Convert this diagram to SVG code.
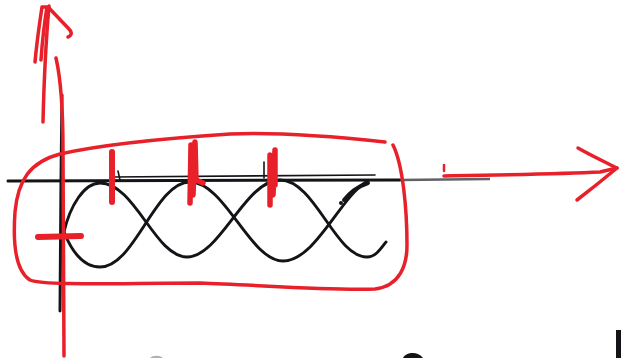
<svg xmlns="http://www.w3.org/2000/svg" width="622" height="358" viewBox="0 0 622 358">
<style>
.ink{fill:none;stroke:#141418;stroke-linecap:round;stroke-linejoin:round}
.red{fill:none;stroke:#e8202a;stroke-linecap:round;stroke-linejoin:round}
</style>
<rect width="622" height="358" fill="#ffffff"/>
<g id="axes">
<path class="ink" d="M8,181 L400,180" stroke-width="3"/>
<path d="M400,180 L490,179" stroke="#3a3a40" stroke-width="2.5" fill="none" opacity="0.8"/>
<path class="ink" d="M112,177 L375,175" stroke-width="1.6"/>
<path class="ink" d="M62,95 L61,180 L60,311" stroke-width="3"/>
<path class="ink" d="M264,162 L264,178" stroke-width="1.6"/>
<path class="ink" d="M118,171 L120,180" stroke-width="1.6"/>
</g>
<g id="waves">
<path class="ink" stroke-width="2.9" d="M64,232 C 72,252 84,267 100,267 C 135,267 155,182 190,182 C 225,182 250,261 283,261 C 315,261 340,198 366,182"/>
<path class="ink" stroke-width="2.9" d="M64,232 C 70,206 84,183 100,183 C 135,183 155,257 187,257 C 220,257 245,180 280,180 C 315,180 335,257 367,257 C 375,257 380,250 386,242"/>
<path class="ink" stroke-width="4" d="M344,200 C 350,193 356,187 368,183"/>
<circle cx="341" cy="203" r="2" fill="#141418"/>
</g>
<g id="annotations">
<path class="red" stroke-width="3.5" d="M385,142 C 330,136 280,132 230,134 C 170,138 100,145 60,154 C 30,162 18,180 15,212 C 13,240 14,270 30,280 C 45,286 120,283 200,283 C 260,285 330,291 375,289 C 400,286 407,265 407,245 C 407,210 403,165 393,145"/>
<path class="red" stroke-width="3.5" d="M56,58 C 61,80 63,110 63,150 L 64,356"/>
<path class="red" stroke-width="3.5" d="M43,122 C 44,80 46,40 49,6"/>
<path class="red" stroke-width="3.5" d="M35,62 C 37,40 40,20 42,7 L 47,7 C 44,25 42,45 41,60"/>
<path class="red" stroke-width="3.5" d="M49,8 L 69,29 C 73,33 71,36 68,37"/>
<path class="red" stroke-width="6" d="M112,152 L112,202"/>
<path class="red" stroke-width="5.5" d="M190,203 L191,145 L193,195 L195,142 L196,180 L203,183"/>
<path class="red" stroke-width="5.5" d="M270,205 L270,155 L273,195 L275,150 L275,185"/>
<path class="red" stroke-width="6" d="M38,237 L81,236"/>
<path class="red" stroke-width="2.5" d="M444,165 L444,171"/>
<path class="red" stroke-width="3.5" d="M444,176 C 500,175 560,174 600,172 L617,168"/>
<path class="red" stroke-width="3.5" d="M578,148 C 590,155 605,162 617,168 C 605,178 590,190 577,200"/>
</g>
<g id="edge-marks">
<rect x="616" y="330" width="5" height="28" fill="#141418"/>
<path d="M403,358 C 406,352 418,351 423,358 Z" fill="#141418"/>
<path d="M150,358 C 153,355 160,355 163,358 Z" fill="#b0b0b0"/>
</g>
</svg>
